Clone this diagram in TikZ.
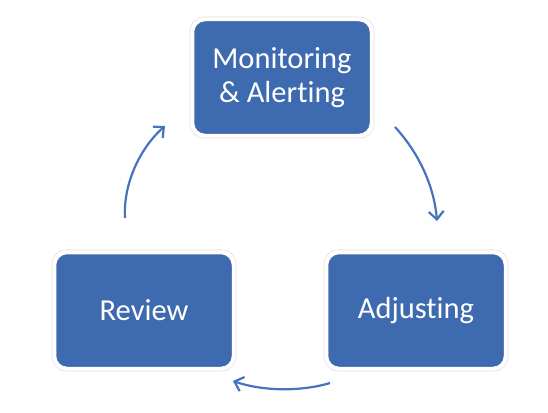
\documentclass[tikz,border=0pt]{standalone}
\usepackage{fontspec}
\setmainfont[Ligatures={NoCommon,NoContextual}]{Carlito}
\usetikzlibrary{arrows.meta}
\definecolor{boxblue}{RGB}{62,106,176}
\definecolor{arrowblue}{RGB}{70,114,190}
\tikzset{
  stagebox/.style={rectangle, rounded corners=12pt, fill=boxblue, draw=white, line width=2.5pt,
    minimum width=178pt, minimum height=115pt, text=white, align=center,
    font=\fontsize{30.5}{34}\selectfont, inner sep=0pt},
  halo/.style={rectangle, rounded corners=14pt, draw=black!12, line width=0.6pt,
    minimum width=184pt, minimum height=121pt},
  cyclearrow/.style={draw=arrowblue, line width=2.2pt, -{Straight Barb[length=8pt,width=15pt,line width=2.2pt]}}
}
\begin{document}
\begin{tikzpicture}[x=1pt,y=-1pt]
\useasboundingbox (0,0) rectangle (548,412);
\node[halo] at (282,77.5) {};
\node[halo] at (144,310.5) {};
\node[halo] at (416,310.5) {};
\node[stagebox] (mon) at (282,77.5) {Monitoring\\\& Alert\kern0pt ing};
\node[stagebox] (rev) at (144,310.5) {Review};
\node[stagebox] (adj) at (416,310.5) {Adjust\kern0pt ing};
\coordinate (a1s) at (395,127);
\coordinate (a1e) at (437,221);
\coordinate (a2s) at (330,383);
\coordinate (a2e) at (233,381);
\coordinate (a3s) at (125,218);
\coordinate (a3e) at (165,126);
\draw[cyclearrow] (a1s) .. controls (418,152) and (434,185) .. (a1e);
\draw[cyclearrow] (a2s) .. controls (300,392) and (262,391) .. (a2e);
\draw[cyclearrow] (a3s) .. controls (123,184) and (140,148) .. (a3e);
\end{tikzpicture}
\end{document}
